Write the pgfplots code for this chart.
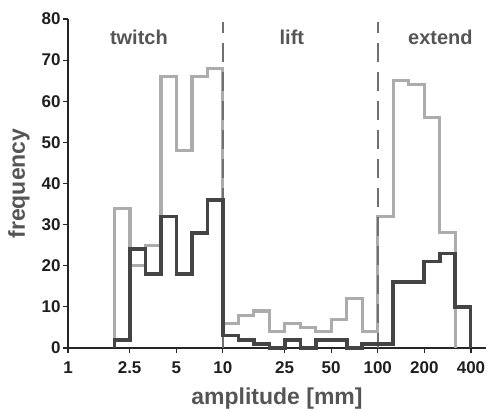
\documentclass[border=0pt]{standalone}
\usepackage{pgfplots}
\pgfplotsset{compat=1.18}
\usepackage{fontspec}
\setmainfont{Liberation Sans}
\definecolor{lightg}{RGB}{172,172,172}
\definecolor{darkg}{RGB}{68,68,68}
\definecolor{labg}{RGB}{85,85,85}
\definecolor{dashg}{RGB}{112,112,112}
\begin{document}
\begin{tikzpicture}
\begin{axis}[
 scale only axis, width=418pt, height=329pt,
 xmode=log, xmin=1, xmax=500, ymin=0, ymax=80,
 axis lines=left, axis line style={-, line width=1.4pt, color=black!85},
 xtick={1,2.5,5,10,25,50,100,200,400},
 xticklabels={1,2.5,5,10,25,50,100,200,400},
 minor xtick={},
 ytick={0,10,...,80},
 tick align=outside, major tick length=5pt,
 tick style={line width=1.2pt, black!85},
 ticklabel style={font=\bfseries\fontsize{17}{17}\selectfont, color=black!88},
 xticklabel style={yshift=-5pt},
 yticklabel style={xshift=1pt},
 /pgf/number format/assume math mode=true,
 xlabel={amplitude [mm]}, ylabel={frequency},
 label style={font=\bfseries\fontsize{23}{23}\selectfont, color=labg},
 xlabel style={yshift=-7pt},
 ylabel style={yshift=5pt},
 clip=false,
]
\addplot[const plot, lightg, line width=3.2pt, line join=miter] coordinates {
(1.995,0) (1.995,34) (2.512,20) (3.162,25) (3.981,66) (5.012,48) (6.310,66) (7.943,68)
(10,6) (12.59,8) (15.85,9) (19.95,4) (25.12,6) (31.62,5) (39.81,4) (50.12,7) (63.10,12) (79.43,4)
(100,32) (125.9,65) (158.5,64) (199.5,56) (251.2,28) (316.2,0)};
\addplot[dashg, line width=2pt, dash pattern=on 19pt off 10pt, dash phase=8pt] coordinates {(10,79.2) (10,0)};
\addplot[dashg, line width=2pt, dash pattern=on 19pt off 10pt, dash phase=8pt] coordinates {(100,79.2) (100,0)};
\addplot[const plot, darkg, line width=3.6pt, line join=miter] coordinates {
(1.995,0) (1.995,2) (2.512,24) (3.162,18) (3.981,32) (5.012,18) (6.310,28) (7.943,36)
(10,3) (12.59,2) (15.85,1) (19.95,0) (25.12,2) (31.62,0) (39.81,2) (50.12,2) (63.10,0) (79.43,1)
(100,1) (125.9,16) (158.5,16) (199.5,21) (251.2,23) (316.2,10) (398.1,0)};
\node[font=\bfseries\fontsize{20}{20}\selectfont, text=labg] at (axis cs:2.87,75.6) {twitch};
\node[font=\bfseries\fontsize{20}{20}\selectfont, text=labg] at (axis cs:27.9,75.6) {lift};
\node[font=\bfseries\fontsize{20}{20}\selectfont, text=labg] at (axis cs:254,75.6) {extend};
\end{axis}
\pgfresetboundingbox
\path ([xshift=-68pt,yshift=-62pt]current axis.south west) rectangle ([xshift=1pt,yshift=19pt]current axis.north east);
\end{tikzpicture}
\end{document}
